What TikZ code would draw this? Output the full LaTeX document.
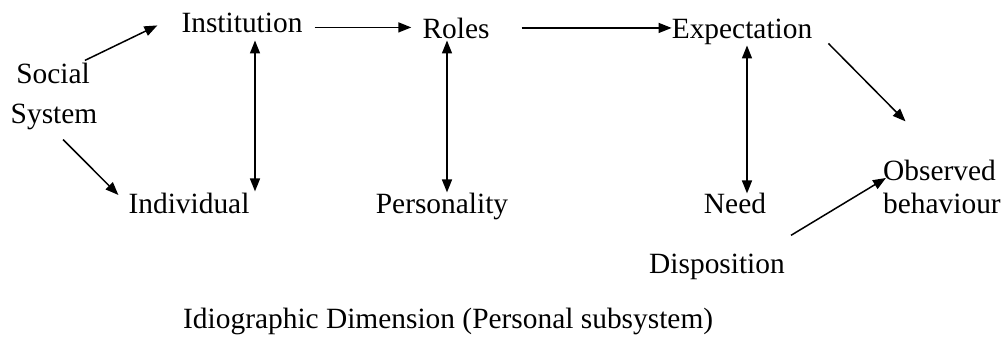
\documentclass[tikz,border=0pt]{standalone}
\usepackage{fontspec}
\setmainfont{Liberation Serif}
\usetikzlibrary{arrows.meta,calc}
\begin{document}
\begin{tikzpicture}[x=1pt,y=-1pt,
  lbl/.style={inner sep=0pt,anchor=base,font=\fontsize{29.4}{32}\selectfont},
  arr/.style={line width=1.5pt,-{Triangle[length=13pt,width=10pt]}},
  darr/.style={line width=1.5pt,{Triangle[length=13pt,width=10pt]}-{Triangle[length=13pt,width=10pt]}}]
\fill[white] (0,0) rectangle (1003,338);
\useasboundingbox (0,0) rectangle (1003,338);
% nodes
\node[lbl] (soc) at (53,83) {Social};
\node[lbl] (sys) at (54,123) {System};
\node[lbl] (inst) at (242,32) {Institution};
\node[lbl] (indiv) at (189,213) {Individual};
\node[lbl] (roles) at (456,38) {Roles};
\node[lbl] (pers) at (442,213) {Personality};
\node[lbl] (exp) at (742,38) {Expectation};
\node[lbl] (need) at (735,213) {Need};
\node[lbl,anchor=base west] (obs) at (883,180) {Observed};
\node[lbl,anchor=base west] (beh) at (883,213) {behaviour};
\node[lbl] (disp) at (717,273) {Disposition};
\node[lbl,anchor=base west] (cap) at (183,328) {Idiographic Dimension (Personal subsystem)};
% connectors
\coordinate (ia) at ($(inst.east)+(12,5)$);
\draw[arr] ($(soc.north east)+(-5,-2)$) -- ($(inst.west)+(-24,3)$);
\draw[arr] ($(sys.south)+(9,10)$) -- ($(indiv.west)+(-10,-8)$);
\draw[darr] ($(inst.south)+(13,8)$) -- ($(indiv.north)+(66,-1)$);
\draw[arr] (ia) -- ([xshift=-11pt]roles.west |- ia);
\draw[darr] ($(roles.south)+(-9,2)$) -- ($(pers.north)+(5,0)$);
\draw[arr] ($(roles.east)+(32,0)$) -- (roles.east -| exp.west);
\draw[darr] ($(exp.south)+(5,1)$) -- ($(need.north)+(12,1)$);
\draw[arr] ($(exp.south east)+(16,-1)$) -- ($(obs.north)+(-34,-38)$);
\draw[arr] ($(disp.north east)+(6,-18)$) -- ($(obs.west)+(3,8)$);
\end{tikzpicture}
\end{document}
